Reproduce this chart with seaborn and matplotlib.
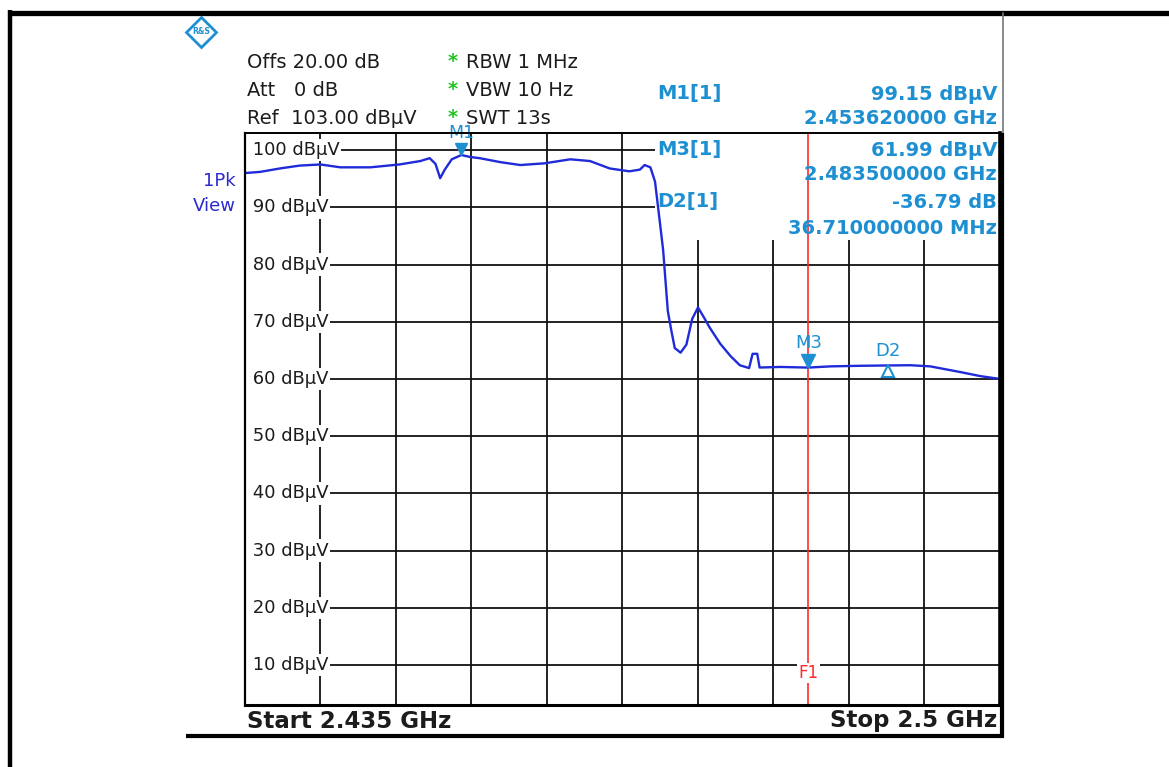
import matplotlib
matplotlib.use("Agg")
import matplotlib.pyplot as plt
import matplotlib.transforms as mtransforms
from matplotlib.patches import Rectangle
import seaborn as sns

# trace (GHz, dBuV)
freq_ghz = [2.4350, 2.4363, 2.4380, 2.4397, 2.4415, 2.4432, 2.4458, 2.4483,
            2.4501, 2.4509, 2.4514, 2.4518, 2.4522, 2.4528, 2.45362, 2.4544,
            2.4552, 2.4570, 2.4587, 2.4608, 2.4630, 2.4647, 2.4664, 2.4681,
            2.4690, 2.4694, 2.4699, 2.4703, 2.4707, 2.4710, 2.4712, 2.4714,
            2.4717, 2.4720, 2.4725, 2.4730, 2.4735, 2.4740, 2.4745, 2.4750,
            2.4759, 2.4768, 2.4776, 2.4784, 2.4787, 2.4791, 2.4793, 2.4811,
            2.4835, 2.4854, 2.4879, 2.49033, 2.4923, 2.4940, 2.4953, 2.4966,
            2.4983, 2.5000]
level_dbuv = [96.0, 96.2, 96.8, 97.3, 97.5, 97.0, 97.0, 97.5,
              98.1, 98.6, 97.6, 95.1, 96.6, 98.4, 99.15, 98.8,
              98.6, 97.9, 97.4, 97.7, 98.4, 98.1, 96.8, 96.3,
              96.6, 97.4, 97.0, 94.5, 87.7, 82.5, 77.2, 71.9,
              68.5, 65.4, 64.6, 66.0, 70.5, 72.5, 70.8, 69.0,
              66.2, 64.0, 62.4, 61.9, 64.4, 64.4, 62.0, 62.1,
              61.99, 62.2, 62.3, 62.36, 62.4, 62.2, 61.7, 61.2,
              60.5, 60.0]

start_ghz, stop_ghz = 2.435, 2.5
ref_level, range_db = 103.0, 100.0
grid_levels = [100, 90, 80, 70, 60, 50, 40, 30, 20, 10]
freq_ticks = [2.435, 2.4415, 2.448, 2.4545, 2.461, 2.4675, 2.474, 2.4805,
              2.487, 2.4935, 2.5]

m1_freq, m1_level = 2.45362, 99.15
m3_freq, m3_level = 2.4835, 61.99
d2_freq, d2_level = 2.49033, 62.36

header_left = ["Offs 20.00 dB", "Att   0 dB", "Ref  103.00 dB\u00b5V"]
header_mid = ["RBW 1 MHz", "VBW 10 Hz", "SWT 13s"]
info_names = ["M1[1]", "M3[1]", "D2[1]"]
info_values = ["99.15 dB\u00b5V", "2.453620000 GHz", "61.99 dB\u00b5V",
               "2.483500000 GHz", "-36.79 dB", "36.710000000 MHz"]

TRACE = "#1f2bd9"
MARK = "#1e90d2"
TXT = "#1c1c1c"

sns.set_theme(style="white")
plt.rcParams["font.family"] = ["DejaVu Sans"]

W, H = 1169, 767
fig = plt.figure(figsize=(W / 100, H / 100), dpi=100)

# background layer in pixel coordinates for the screen frame
bg = fig.add_axes([0, 0, 1, 1])
bg.set_xlim(0, W)
bg.set_ylim(H, 0)
bg.axis("off")
bg.plot([8, W], [12.5, 12.5], color="black", lw=3.8, solid_capstyle="butt")
bg.plot([10, 10], [10, H], color="black", lw=3.2, solid_capstyle="butt")
bg.plot([1003, 1003], [13, 133], color="#777777", lw=1.2)
bg.plot([1002, 1002], [133, 737], color="black", lw=3.0, solid_capstyle="butt")
bg.plot([186, 1004], [736, 736], color="black", lw=3.0, solid_capstyle="butt")

# main trace axes
ax = fig.add_axes([245 / W, 1 - 705 / H, 755 / W, 572 / H])
ax.set_axisbelow(True)
sns.lineplot(x=freq_ghz, y=level_dbuv, ax=ax, color=TRACE, lw=1.7, zorder=4)
ax.set_xlim(start_ghz, stop_ghz)
ax.set_ylim(ref_level - range_db, ref_level)
ax.set_xticks(freq_ticks)
ax.set_yticks(grid_levels)
ax.set_xticklabels([])
ax.set_yticklabels([])
ax.tick_params(length=0)
ax.grid(True, color="#111111", lw=1.3)
for side, w in [("left", 1.6), ("bottom", 2.2), ("top", 1.4), ("right", 2.6)]:
    ax.spines[side].set_color("black")
    ax.spines[side].set_linewidth(w)
    ax.spines[side].set_zorder(6)

# white panel behind marker readout
ax.add_patch(Rectangle((0.543, 0.813), 0.457, 0.187, transform=ax.transAxes,
                       facecolor="white", edgecolor="none", zorder=1))

ylab = mtransforms.blended_transform_factory(ax.transAxes, ax.transData)
for lvl in grid_levels:
    ax.text(0.002, lvl, f" {lvl} dB\u00b5V", transform=ylab, ha="left", va="center",
            fontsize=13, color=TXT, zorder=3,
            bbox=dict(facecolor="white", edgecolor="none", pad=1.5))

# display line F1 at M3 frequency
ax.axvline(m3_freq, color="#ff2a2a", lw=1.2, zorder=3)
ax.text(m3_freq, 8.6, "F1", ha="center", va="center", fontsize=12,
        color="#ff2a2a", zorder=3,
        bbox=dict(facecolor="white", edgecolor="none", pad=1))

# markers
up = lambda px: mtransforms.offset_copy(ax.transData, fig=fig, y=px, units="dots")
ax.plot([m1_freq], [m1_level], marker="v", ms=9, color=MARK, zorder=5,
        transform=up(6), clip_on=False)
ax.text(m1_freq, m1_level, "M1", transform=up(22), ha="center", va="center",
        fontsize=12.5, color=MARK, zorder=5, clip_on=False)
ax.plot([m3_freq], [m3_level], marker="v", ms=10, color=MARK, zorder=5,
        transform=up(7))
ax.text(m3_freq, m3_level, "M3", transform=up(25), ha="center", va="center",
        fontsize=13, color=MARK, zorder=5)
ax.plot([d2_freq], [d2_level], marker="^", ms=8, mfc="white", mec=MARK, mew=1.5,
        zorder=5, transform=up(-6))
ax.text(d2_freq, d2_level, "D2", transform=up(14), ha="center", va="center",
        fontsize=13, color=MARK, zorder=5)

# overlay for screen texts
top = fig.add_axes([0, 0, 1, 1], facecolor="none")
top.set_xlim(0, W)
top.set_ylim(H, 0)
top.axis("off")

top.plot([201], [32], marker="D", ms=15, mfc="white", mec=MARK, mew=2)
top.text(201, 32, "R&S", ha="center", va="center", fontsize=5.5,
         color=MARK, weight="bold")

for i, s in enumerate(header_left):
    top.text(247, 62 + 28 * i, s, ha="left", va="center", fontsize=14, color=TXT)
for i, s in enumerate(header_mid):
    top.text(448, 62 + 28 * i, "*", ha="left", va="center", fontsize=14,
             color="#22c522", weight="bold")
    top.text(466, 62 + 28 * i, s, ha="left", va="center", fontsize=14, color=TXT)

for s, y in zip(info_names, [94, 150, 202]):
    top.text(657, y, s, ha="left", va="center", fontsize=14, color=MARK,
             weight="bold")
for s, y in zip(info_values, [94, 119, 150, 175, 202, 228]):
    top.text(997, y, s, ha="right", va="center", fontsize=14, color=MARK,
             weight="bold")

top.text(236, 181, "1Pk", ha="right", va="center", fontsize=13, color="#2a2ad0")
top.text(236, 206, "View", ha="right", va="center", fontsize=13, color="#2a2ad0")

top.text(247, 721, f"Start {start_ghz} GHz", ha="left", va="center",
         fontsize=16.5, color=TXT, weight="bold")
top.text(997, 721, f"Stop {stop_ghz} GHz", ha="right", va="center",
         fontsize=16.5, color=TXT, weight="bold")

fig.savefig("out.png", dpi=100, facecolor="white")
